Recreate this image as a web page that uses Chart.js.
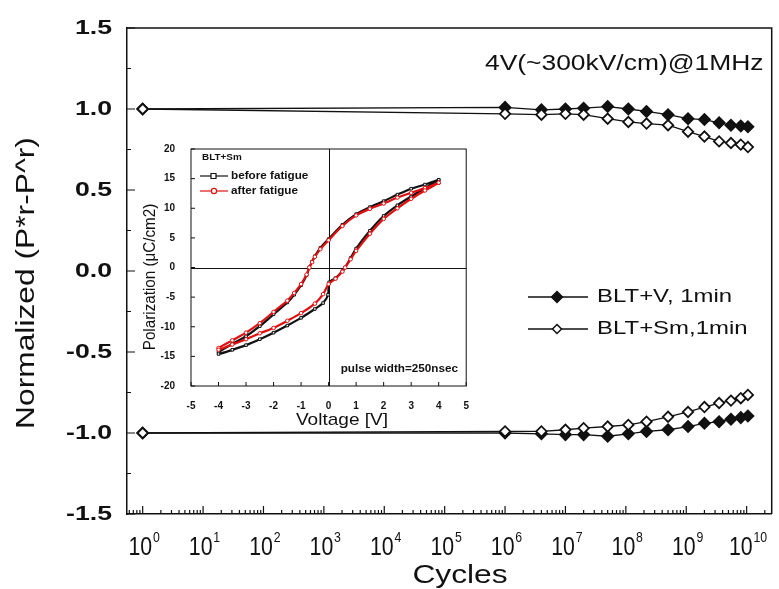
<!DOCTYPE html>
<html>
<head>
<meta charset="utf-8">
<script src="https://cdn.jsdelivr.net/npm/chart.js@4.4.1/dist/chart.umd.min.js"></script>
<style>
  body { margin: 0; background: #fff; }
  #wrap { position: relative; width: 779px; height: 589px; }
  #main { position: absolute; left: 0; top: 0; }
  #inset { position: absolute; left: 135px; top: 135px; }
</style>
</head>
<body>
<div id="wrap">
  <canvas id="main" width="779" height="589"></canvas>
  <canvas id="inset" width="340" height="296"></canvas>
</div>
<script>
// fatigue data (normalized +/- remanent polarization vs switching cycles)
const cycles = [1, 1e6, 4e6, 1e7, 2e7, 5e7, 1.1e8, 2.2e8, 5e8, 1.07e9, 2e9, 3.5e9, 5.5e9, 8e9, 1.05e10];
const vPos  = [1.0, 1.01, 0.995, 1.0, 1.005, 1.015, 1.0, 0.985, 0.965, 0.94, 0.935, 0.915, 0.9, 0.895, 0.89];
const vNeg  = [-1.0, -1.0, -1.005, -1.01, -1.01, -1.02, -1.005, -0.99, -0.98, -0.96, -0.94, -0.93, -0.915, -0.905, -0.895];
const smPos = [1.0, 0.97, 0.965, 0.97, 0.965, 0.94, 0.92, 0.91, 0.9, 0.86, 0.83, 0.8, 0.79, 0.78, 0.765];
const smNeg = [-1.0, -0.99, -0.99, -0.98, -0.97, -0.96, -0.95, -0.93, -0.9, -0.87, -0.84, -0.815, -0.8, -0.785, -0.765];
const yTicks = [-1.5, -1.0, -0.5, 0.0, 0.5, 1.0, 1.5];
const xExps = [0, 1, 2, 3, 4, 5, 6, 7, 8, 9, 10];
const legendNames = ['BLT+V, 1min', 'BLT+Sm,1min'];

// inset P-E loops (V, uC/cm2), upper branch then lower branch
const beforeUpV  = [4, 3.5, 3, 2.5, 2, 1.5, 1, 0.5, 0, -0.3, -0.5, -0.6, -0.7, -0.8, -1, -1.25, -1.5, -2, -2.5, -3, -3.5, -4];
const beforeUpP  = [14.8, 14.0, 13.3, 12.3, 11.2, 10.2, 9.0, 7.2, 4.8, 3.3, 1.9, 1.0, 0, -1.3, -3.0, -4.6, -5.9, -7.9, -9.9, -11.6, -12.9, -14.3];
const beforeLowV = [-4, -3.5, -3, -2.5, -2, -1.5, -1, -0.5, -0.2, -0.02, 0.02, 0.25, 0.5, 0.6, 0.8, 1, 1.5, 2, 2.5, 3, 3.5, 4];
const beforeLowP = [-14.6, -13.9, -13.1, -12.1, -11.0, -9.8, -8.5, -7.0, -6.0, -4.6, -2.5, -1.8, -0.6, 0, 1.6, 3.2, 6.2, 8.7, 10.5, 12.0, 13.4, 14.8];
const afterUpV   = [4, 3.5, 3, 2.5, 2, 1.5, 1, 0.5, 0, -0.3, -0.5, -0.6, -0.7, -0.8, -1, -1.25, -1.5, -2, -2.5, -3, -3.5, -4];
const afterUpP   = [14.3, 13.4, 12.6, 11.8, 10.8, 9.9, 8.8, 7.0, 4.6, 3.1, 1.8, 0.9, 0, -1.2, -2.8, -4.3, -5.6, -7.5, -9.4, -11.0, -12.3, -13.6];
const afterLowV  = [-4, -3.5, -3, -2.5, -2, -1.5, -1, -0.5, -0.2, 0, 0.25, 0.5, 0.6, 0.8, 1, 1.5, 2, 2.5, 3, 3.5, 4];
const afterLowP  = [-13.9, -13.0, -12.1, -11.1, -10.2, -9.0, -7.7, -6.1, -4.5, -2.8, -1.9, -0.7, 0, 1.4, 2.8, 5.7, 8.2, 10.0, 11.6, 13.0, 14.3];

const INK = '#111';
const RED = '#e01010';
const FONT = '"Liberation Sans", Arial';
const pts = (xs, ys) => xs.map((x, i) => ({ x: x, y: ys[i] }));

// text stretched along its own direction (the scan is wider than plain Arial)
function txt(ctx, str, x, y, font, align, stretch, rot) {
  ctx.save();
  ctx.font = font;
  ctx.fillStyle = INK;
  ctx.textBaseline = 'middle';
  ctx.textAlign = align || 'left';
  ctx.translate(x, y);
  if (rot) ctx.rotate(rot);
  ctx.scale(stretch || 1, 1);
  ctx.fillText(str, 0, 0);
  ctx.restore();
}

function diamond(ctx, x, y, r, fill) {
  ctx.beginPath();
  ctx.moveTo(x, y - r); ctx.lineTo(x + r, y); ctx.lineTo(x, y + r); ctx.lineTo(x - r, y);
  ctx.closePath();
  ctx.fillStyle = fill; ctx.fill();
  ctx.lineWidth = 1.5; ctx.strokeStyle = INK; ctx.stroke();
}

function series(data, filled, order) {
  return {
    data: data,
    order: order,
    borderColor: INK,
    borderWidth: 1.3,
    pointStyle: 'rectRot',
    pointRadius: filled ? 5.5 : 5.2,
    pointBorderWidth: 1.8,
    pointBackgroundColor: filled ? INK : '#fff',
    pointBorderColor: INK,
    tension: 0
  };
}

const mainDecor = {
  id: 'mainDecor',
  afterDraw(chart) {
    const ctx = chart.ctx, a = chart.chartArea;
    const x = chart.scales.x, y = chart.scales.y;
    ctx.save();
    ctx.strokeStyle = INK; ctx.lineWidth = 1.5;
    ctx.beginPath();
    ctx.moveTo(a.left, a.top); ctx.lineTo(a.right, a.top); ctx.lineTo(a.right, a.bottom);
    ctx.stroke();
    // inward ticks
    ctx.lineWidth = 1.2;
    ctx.beginPath();
    for (let n = -1; n <= 10; n++) {
      for (let k = 1; k <= 9; k++) {
        const v = k * Math.pow(10, n);
        if (v < x.min || v > x.max) continue;
        const px = x.getPixelForValue(v);
        ctx.moveTo(px, a.bottom); ctx.lineTo(px, a.bottom - (k === 1 ? 8 : 4));
      }
    }
    for (let v = -1.5; v <= 1.5001; v += 0.25) {
      const py = y.getPixelForValue(v);
      const major = Math.abs(v * 2 - Math.round(v * 2)) < 1e-6;
      ctx.moveTo(a.left, py); ctx.lineTo(a.left + (major ? 8 : 4), py);
    }
    ctx.stroke();
    ctx.restore();

    // y tick labels
    yTicks.forEach(v => {
      txt(ctx, v.toFixed(1), 112, y.getPixelForValue(v), 'bold 21px ' + FONT, 'right', 1.27);
    });
    // x tick labels 10^n
    const sx = 0.82;
    const baseFont = '26px ' + FONT, supFont = '15px ' + FONT;
    xExps.forEach(e => {
      const px = x.getPixelForValue(Math.pow(10, e));
      ctx.save();
      ctx.font = baseFont;
      const wb = ctx.measureText('10').width;
      ctx.font = supFont;
      const ws = ctx.measureText(String(e)).width;
      ctx.translate(px - (wb + ws) * sx / 2 + 1, 0);
      ctx.scale(sx, 1);
      ctx.fillStyle = INK; ctx.textAlign = 'left'; ctx.textBaseline = 'middle';
      ctx.font = baseFont; ctx.fillText('10', 0, 548);
      ctx.font = supFont; ctx.fillText(String(e), wb + 1, 538);
      ctx.restore();
    });
    // axis titles
    txt(ctx, 'Cycles', 460, 576, '26px ' + FONT, 'center', 1.22);
    txt(ctx, 'Normalized (P*r-P^r)', 27, 283, '25px ' + FONT, 'center', 1.27, -Math.PI / 2);
    // annotation
    txt(ctx, '4V(~300kV/cm)@1MHz', 485, 64, '22px ' + FONT, 'left', 1.2);
    // legend
    const rows = [[297, true], [329, false]];
    rows.forEach((r, i) => {
      ctx.save();
      ctx.strokeStyle = INK; ctx.lineWidth = 1.5;
      ctx.beginPath(); ctx.moveTo(528, r[0]); ctx.lineTo(588, r[0]); ctx.stroke();
      diamond(ctx, 557, r[0], r[1] ? 5.5 : 4.5, r[1] ? INK : '#fff');
      ctx.restore();
      txt(ctx, legendNames[i], 597, r[0], '19px ' + FONT, 'left', 1.26);
    });
  }
};

new Chart(document.getElementById('main'), {
  type: 'line',
  data: {
    datasets: [
      series(pts(cycles, vPos), true, 2),
      series(pts(cycles, vNeg), true, 2),
      series(pts(cycles, smPos), false, 1),
      series(pts(cycles, smNeg), false, 1)
    ]
  },
  options: {
    responsive: false,
    animation: false,
    devicePixelRatio: 1,
    layout: { padding: { left: 0, right: 3, top: 28, bottom: 0 } },
    plugins: { legend: { display: false }, tooltip: { enabled: false } },
    scales: {
      x: {
        type: 'logarithmic', min: 0.55, max: 2.6e10,
        grid: { display: false },
        border: { display: true, color: INK, width: 1.5 },
        ticks: { display: false },
        afterFit: s => { s.height = 75; }
      },
      y: {
        type: 'linear', min: -1.5, max: 1.5,
        grid: { display: false },
        border: { display: true, color: INK, width: 1.5 },
        ticks: { display: false },
        afterFit: s => { s.width = 127; }
      }
    }
  },
  plugins: [mainDecor]
});

const insetDecor = {
  id: 'insetDecor',
  beforeDatasetsDraw(chart) {
    const ctx = chart.ctx, a = chart.chartArea;
    const x = chart.scales.x, y = chart.scales.y;
    ctx.save();
    ctx.strokeStyle = INK; ctx.lineWidth = 1;
    ctx.beginPath();
    const x0 = Math.round(x.getPixelForValue(0)) + 0.5, y0 = Math.round(y.getPixelForValue(0)) + 0.5;
    ctx.moveTo(x0, a.top); ctx.lineTo(x0, a.bottom);
    ctx.moveTo(a.left, y0); ctx.lineTo(a.right, y0);
    ctx.stroke();
    ctx.restore();
  },
  afterDraw(chart) {
    const ctx = chart.ctx, a = chart.chartArea;
    const x = chart.scales.x, y = chart.scales.y;
    ctx.save();
    ctx.strokeStyle = INK; ctx.lineWidth = 1;
    ctx.strokeRect(a.left, a.top, a.right - a.left, a.bottom - a.top);
    ctx.beginPath();
    for (let v = -5; v <= 5; v++) {
      const px = x.getPixelForValue(v);
      ctx.moveTo(px, a.bottom); ctx.lineTo(px, a.bottom - 4);
    }
    for (let v = -20; v <= 20; v += 5) {
      const py = y.getPixelForValue(v);
      ctx.moveTo(a.left, py); ctx.lineTo(a.left + 4, py);
    }
    ctx.stroke();
    ctx.restore();

    txt(ctx, 'Polarization (\u03bcC/cm2)', 16, 142, '16px ' + FONT, 'center', 0.95, -Math.PI / 2);
    txt(ctx, 'Voltage [V]', 207, 285, '17px ' + FONT, 'center', 1.12);
    txt(ctx, 'BLT+Sm', 67, 23, 'bold 9px ' + FONT, 'left', 1.1);
    const rows = [[41, INK, 'before fatigue', 'rect'], [56, RED, 'after fatigue', 'circle']];
    rows.forEach(r => {
      ctx.save();
      ctx.strokeStyle = r[1]; ctx.lineWidth = 1.2;
      ctx.beginPath(); ctx.moveTo(65, r[0]); ctx.lineTo(93, r[0]); ctx.stroke();
      ctx.fillStyle = '#fff';
      ctx.beginPath();
      if (r[3] === 'rect') ctx.rect(76, r[0] - 2.5, 5, 5); else ctx.arc(79, r[0], 2.6, 0, Math.PI * 2);
      ctx.fill(); ctx.stroke();
      ctx.restore();
      txt(ctx, r[2], 96, r[0], 'bold 10px ' + FONT, 'left', 1.17);
    });
    txt(ctx, 'pulse width=250nsec', 323, 234, 'bold 10px ' + FONT, 'right', 1.17);
  }
};

function loop(data, color, style) {
  return {
    data: data,
    showLine: true,
    borderColor: color,
    borderWidth: 2.2,
    pointStyle: style,
    pointRadius: 1.8,
    pointBorderWidth: 1,
    pointBackgroundColor: '#fff',
    pointBorderColor: color,
    tension: 0.3
  };
}

new Chart(document.getElementById('inset'), {
  type: 'scatter',
  data: {
    datasets: [
      loop(pts(afterUpV.concat(afterLowV), afterUpP.concat(afterLowP)), RED, 'circle'),
      loop(pts(beforeUpV.concat(beforeLowV), beforeUpP.concat(beforeLowP)), INK, 'rect')
    ]
  },
  options: {
    responsive: false,
    animation: false,
    devicePixelRatio: 1,
    layout: { padding: { left: 0, right: 7, top: 9, bottom: 0 } },
    plugins: { legend: { display: false }, tooltip: { enabled: false } },
    scales: {
      x: {
        type: 'linear', min: -5, max: 5,
        grid: { display: false },
        border: { display: false },
        ticks: { stepSize: 1, autoSkip: false, maxRotation: 0, padding: 6, color: INK,
                 font: { family: FONT, size: 10, weight: 'bold' } },
        afterFit: s => { s.height = 45; }
      },
      y: {
        type: 'linear', min: -20, max: 20,
        grid: { display: false },
        border: { display: false },
        ticks: { stepSize: 5, autoSkip: false, padding: 8, color: INK,
                 font: { family: FONT, size: 10, weight: 'bold' } },
        afterFit: s => { s.width = 56; }
      }
    }
  },
  plugins: [insetDecor]
});
</script>
</body>
</html>
